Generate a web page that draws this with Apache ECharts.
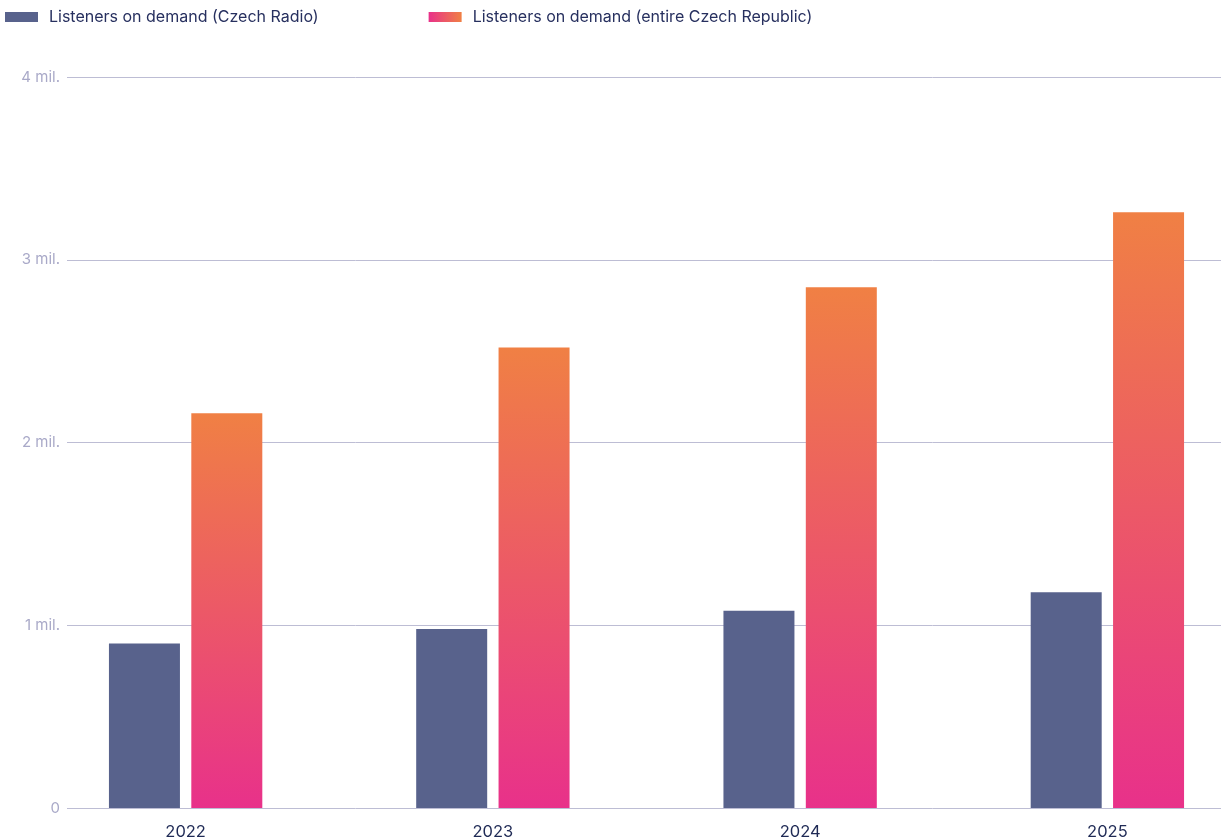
<!DOCTYPE html>
<html>
<head>
<meta charset="utf-8">
<script src="https://cdn.jsdelivr.net/npm/echarts@6/dist/echarts.min.js"></script>
<style>
  html, body { margin: 0; padding: 0; background: #ffffff; }
  #chart { width: 1221px; height: 840px; }
</style>
</head>
<body>
<div id="chart"></div>
<script>
// Listeners on demand, in millions
const years = ['2022', '2023', '2024', '2025'];
const czechRadio = [0.90, 0.98, 1.08, 1.18];
const entireCzechRepublic = [2.16, 2.52, 2.85, 3.26];
const yTicks = [0, 1, 2, 3, 4];

const seriesNames = ['Listeners on demand (Czech Radio)', 'Listeners on demand (entire Czech Republic)'];

const navy = '#58628c';
const pinkOrangeVertical = new echarts.graphic.LinearGradient(0, 0, 0, 1, [
  { offset: 0, color: '#f08044' },
  { offset: 1, color: '#e8318a' }
]);
const pinkOrangeHorizontal = new echarts.graphic.LinearGradient(0, 0, 1, 0, [
  { offset: 0, color: '#e8318a' },
  { offset: 1, color: '#f08044' }
]);

const fontFamily = 'Inter, "Noto Sans", sans-serif';
const chart = echarts.init(document.getElementById('chart'), null, { renderer: 'canvas' });

chart.setOption({
  animation: false,
  backgroundColor: '#ffffff',
  textStyle: { fontFamily },
  legend: {
    left: 0,
    top: 4,
    itemWidth: 33,
    itemHeight: 10,
    itemGap: 110,
    icon: 'rect',
    textStyle: { color: '#27305f', fontSize: 16, fontFamily, padding: [0, 0, 0, 6] },
    data: [
      { name: seriesNames[0], itemStyle: { color: navy } },
      { name: seriesNames[1], itemStyle: { color: pinkOrangeHorizontal } }
    ]
  },
  grid: [
    // value scale and gridlines
    { left: 67, right: 0, top: 77, bottom: 32, outerBoundsMode: 'none' },
    // bar groups (band spills past the right edge)
    { left: 32, width: 1229, top: 77, bottom: 32, outerBoundsMode: 'none' }
  ],
  xAxis: [
    { gridIndex: 0, type: 'value', min: 0, max: 1, show: false },
    {
      gridIndex: 1,
      type: 'category',
      data: years,
      axisLine: { show: false },
      axisTick: { show: false },
      axisLabel: { color: '#1f2a55', fontSize: 16.5, margin: 16, fontFamily }
    }
  ],
  yAxis: [
    {
      gridIndex: 0,
      type: 'value',
      min: yTicks[0],
      max: yTicks[yTicks.length - 1],
      interval: 1,
      axisLine: { show: false },
      axisTick: { show: false },
      axisLabel: {
        color: '#a9a9c8',
        fontSize: 15,
        margin: 7,
        fontFamily,
        formatter: v => (v === 0 ? '0' : v + ' mil.')
      },
      splitLine: { show: true, lineStyle: { color: '#bdbdd4', width: 1 } }
    },
    {
      gridIndex: 1,
      type: 'value',
      min: yTicks[0],
      max: yTicks[yTicks.length - 1],
      interval: 1,
      show: false
    }
  ],
  series: [
    {
      name: seriesNames[0],
      type: 'bar',
      xAxisIndex: 1,
      yAxisIndex: 1,
      data: czechRadio,
      barWidth: 71,
      barGap: '16%',
      itemStyle: { color: navy }
    },
    {
      name: seriesNames[1],
      type: 'bar',
      xAxisIndex: 1,
      yAxisIndex: 1,
      data: entireCzechRepublic,
      barWidth: 71,
      barGap: '16%',
      itemStyle: { color: pinkOrangeVertical }
    }
  ]
});
</script>
</body>
</html>
